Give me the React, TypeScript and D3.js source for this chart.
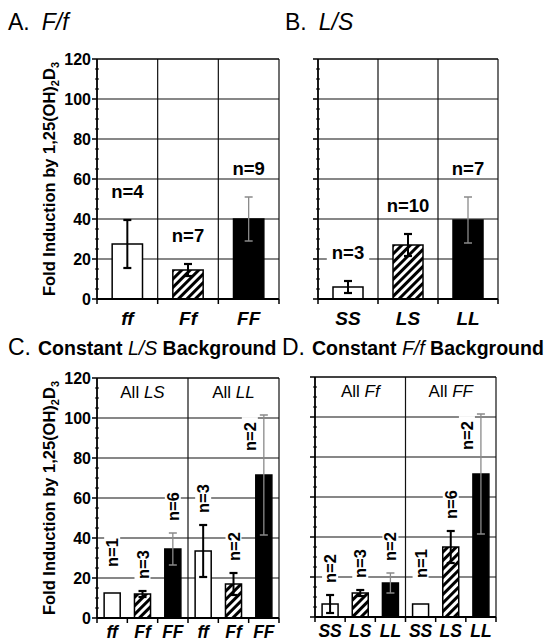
import React, { useRef, useEffect } from "react";
import * as d3 from "d3";

// A. F/f genotypes
const fCats = ["ff", "Ff", "FF"];
const fMeans = [27.5, 14.5, 40];
const fErrs = [12, 3, 11];
const fCounts = [4, 7, 9];

// B. L/S genotypes
const lCats = ["SS", "LS", "LL"];
const lMeans = [6, 27, 39.5];
const lErrs = [3, 5.5, 11.5];
const lCounts = [3, 10, 7];

// C. constant L/S background
const cGroups = ["LS", "LL"];
const cCats = ["ff", "Ff", "FF", "ff", "Ff", "FF"];
const cMeans = [12.5, 12, 34.5, 33.5, 17, 71.5];
const cErrs = [0, 1.5, 8, 13, 5.5, 30];
const cCounts = [1, 3, 6, 3, 2, 2];

// D. constant F/f background
const dGroups = ["Ff", "FF"];
const dCats = ["SS", "LS", "LL", "SS", "LS", "LL"];
const dMeans = [6.5, 12, 17, 6.5, 35, 71.5];
const dErrs = [4.5, 1.5, 5, 0, 8, 30];
const dCounts = [2, 3, 2, 1, 6, 2];

const yTicks = [0, 20, 40, 60, 80, 100, 120];
const fills = ["#fff", "url(#hatch)", "#000"];
const FONT = "'Liberation Sans', Arial, Helvetica, sans-serif";

const drawPanel = (svg, p) => {
  const g = svg.append("g");
  const n = p.cats.length;
  const pi = n > 3 ? 0.47 : 0.5;
  const x = d3
    .scaleBand()
    .domain(d3.range(n))
    .range([p.left, p.right])
    .paddingInner(pi)
    .paddingOuter(pi / 2);
  const y = d3.scaleLinear().domain([0, 120]).range([p.bottom, p.top]);
  const step = x.step();
  const bw = x.bandwidth();

  g.append("rect")
    .attr("x", p.left)
    .attr("y", p.top)
    .attr("width", p.right - p.left)
    .attr("height", p.bottom - p.top)
    .attr("fill", "#fff");

  // horizontal grid
  g.append("g")
    .selectAll("line")
    .data(yTicks.slice(1))
    .join("line")
    .attr("x1", p.left)
    .attr("x2", p.right)
    .attr("y1", (d) => y(d))
    .attr("y2", (d) => y(d))
    .attr("stroke", "#111")
    .attr("stroke-width", 1.2);

  // vertical dividers + right border
  const divs = p.groups ? [3, n] : d3.range(1, n + 1);
  g.append("g")
    .selectAll("line")
    .data(divs)
    .join("line")
    .attr("x1", (i) => p.left + i * step)
    .attr("x2", (i) => p.left + i * step)
    .attr("y1", p.top)
    .attr("y2", p.bottom)
    .attr("stroke", "#111")
    .attr("stroke-width", 1.2);

  // group headers
  if (p.groups) {
    p.groups.forEach((grp, gi) => {
      const t = g
        .append("text")
        .attr("x", p.left + (gi * 3 + 1.5) * step)
        .attr("y", p.top + 20)
        .attr("text-anchor", "middle")
        .attr("font-family", FONT)
        .attr("font-size", 17);
      t.append("tspan").text("All ");
      t.append("tspan").attr("font-style", "italic").text(grp);
    });
  }

  // n labels with white boxes that break the grid
  p.counts.forEach((c, i) => {
    const cx = x(i) + bw / 2;
    const topVal = p.means[i] + p.errs[i];
    const lg = g.append("g");
    if (p.rotateN) {
      const big = p.errs[i] > 20;
      const base = big
        ? y(p.means[i]) - 24
        : y(topVal) - 12 - (p.errs[i] === 0 ? 14 : 0);
      lg.attr("transform", `translate(${big ? cx - 8 : cx + 6},${base}) rotate(-90)`);
    } else {
      lg.attr("transform", `translate(${cx},${y(topVal) - 22})`);
    }
    const t = lg
      .append("text")
      .attr("text-anchor", p.rotateN ? "start" : "middle")
      .attr("font-family", FONT)
      .attr("font-weight", "bold")
      .attr("font-size", p.rotateN ? 16.5 : 18.5)
      .text(`n=${c}`);
    const bb = t.node().getBBox();
    lg.insert("rect", "text")
      .attr("x", bb.x - 5)
      .attr("y", bb.y + 1)
      .attr("width", bb.width + 10)
      .attr("height", bb.height - 2)
      .attr("fill", "#fff");
  });

  // bars
  g.append("g")
    .selectAll("rect")
    .data(p.means)
    .join("rect")
    .attr("x", (_, i) => x(i))
    .attr("y", (d) => y(d))
    .attr("width", bw)
    .attr("height", (d) => y(0) - y(d))
    .attr("fill", (_, i) => fills[i % 3])
    .attr("stroke", "#000")
    .attr("stroke-width", 1.5);

  // error bars
  p.errs.forEach((e, i) => {
    if (!e) return;
    const cx = x(i) + bw / 2;
    const dark = i % 3 === 2;
    const col = dark ? "#8a8a8a" : "#000";
    const sw = dark ? 1.3 : 2;
    const eg = g.append("g").attr("stroke", col).attr("stroke-width", sw);
    eg.append("line")
      .attr("x1", cx)
      .attr("x2", cx)
      .attr("y1", y(p.means[i] - e))
      .attr("y2", y(p.means[i] + e));
    [p.means[i] - e, p.means[i] + e].forEach((v) => {
      eg.append("line")
        .attr("x1", cx - 4)
        .attr("x2", cx + 4)
        .attr("y1", y(v))
        .attr("y2", y(v))
        .attr("stroke-width", dark ? 1.5 : 2.2);
    });
  });

  // axes
  const ax = g.append("g").attr("stroke", "#000");
  ax.append("line")
    .attr("x1", p.left)
    .attr("x2", p.left)
    .attr("y1", p.top)
    .attr("y2", p.bottom)
    .attr("stroke-width", 1.8);
  ax.append("line")
    .attr("x1", p.left)
    .attr("x2", p.right)
    .attr("y1", p.bottom)
    .attr("y2", p.bottom)
    .attr("stroke-width", 1.8);
  ax.append("line")
    .attr("x1", p.left)
    .attr("x2", p.right)
    .attr("y1", p.top)
    .attr("y2", p.top)
    .attr("stroke-width", 1.2);
  ax.selectAll(".major")
    .data(yTicks)
    .join("line")
    .attr("x1", p.left - 5)
    .attr("x2", p.left)
    .attr("y1", (d) => y(d))
    .attr("y2", (d) => y(d))
    .attr("stroke-width", 1.5);
  ax.selectAll(".minor")
    .data(d3.range(0, 121, 5).filter((v) => v % 20 !== 0))
    .join("line")
    .attr("x1", p.left - 2)
    .attr("x2", p.left + 2)
    .attr("y1", (d) => y(d))
    .attr("y2", (d) => y(d))
    .attr("stroke-width", 1);
  ax.selectAll(".xtick")
    .data(d3.range(0, n + 1))
    .join("line")
    .attr("x1", (i) => p.left + i * step)
    .attr("x2", (i) => p.left + i * step)
    .attr("y1", p.bottom)
    .attr("y2", p.bottom + 5)
    .attr("stroke-width", 1.5);

  // x labels
  g.append("g")
    .selectAll("text")
    .data(p.cats)
    .join("text")
    .attr("x", (_, i) => x(i) + bw / 2)
    .attr("y", p.bottom + (n > 3 ? 20 : 26))
    .attr("text-anchor", "middle")
    .attr("font-family", FONT)
    .attr("font-weight", "bold")
    .attr("font-style", "italic")
    .attr("font-size", n > 3 ? 17.5 : 19)
    .text((d) => d);

  if (p.yLabels) {
    g.append("g")
      .selectAll("text")
      .data(yTicks)
      .join("text")
      .attr("x", p.left - 6)
      .attr("y", (d) => y(d))
      .attr("dy", "0.36em")
      .attr("text-anchor", "end")
      .attr("font-family", FONT)
      .attr("font-weight", "bold")
      .attr("font-size", 16)
      .text((d) => d);

    const lab = g
      .append("text")
      .attr("transform", `translate(55,${(p.top + p.bottom) / 2}) rotate(-90)`)
      .attr("text-anchor", "middle")
      .attr("font-family", FONT)
      .attr("font-weight", "bold")
      .attr("font-size", 16.5);
    lab.append("tspan").text("Fold Induction by 1,25(OH)");
    lab.append("tspan").attr("font-size", 11).attr("dy", 4).text("2");
    lab.append("tspan").attr("dy", -4).text("D");
    lab.append("tspan").attr("font-size", 11).attr("dy", 4).text("3");
  }

  // panel title
  const tt = svg
    .append("text")
    .attr("x", p.titleX)
    .attr("y", p.titleY)
    .attr("font-family", FONT);
  tt.append("tspan").attr("font-size", 23).text(p.letter + ".");
  if (p.simpleTitle) {
    tt.append("tspan")
      .attr("font-size", 23)
      .attr("font-style", "italic")
      .attr("dx", 12)
      .text(p.simpleTitle);
  } else {
    tt.append("tspan")
      .attr("font-size", 19.5)
      .attr("font-weight", "bold")
      .attr("dx", 7)
      .text("Constant ");
    tt.append("tspan")
      .attr("font-size", 19.5)
      .attr("font-style", "italic")
      .text(p.bgName);
    tt.append("tspan")
      .attr("font-size", 19.5)
      .attr("font-weight", "bold")
      .text(" Background");
  }
};

const App = () => {
  const svgRef = useRef(null);

  useEffect(() => {
    svgRef.current.innerHTML = "";
    const svg = d3.select(svgRef.current);

    const defs = svg.append("defs");
    const pat = defs
      .append("pattern")
      .attr("id", "hatch")
      .attr("patternUnits", "userSpaceOnUse")
      .attr("width", 6)
      .attr("height", 6)
      .attr("patternTransform", "rotate(45)");
    pat.append("rect").attr("width", 6).attr("height", 6).attr("fill", "#fff");
    pat.append("rect").attr("width", 3).attr("height", 6).attr("fill", "#000");

    svg.append("rect").attr("width", 545).attr("height", 644).attr("fill", "#fff");

    drawPanel(svg, {
      left: 97, right: 279, top: 59, bottom: 299,
      cats: fCats, means: fMeans, errs: fErrs, counts: fCounts,
      groups: null, rotateN: false, yLabels: true,
      letter: "A", simpleTitle: "F/f", titleX: 8, titleY: 30,
    });
    drawPanel(svg, {
      left: 318, right: 498, top: 59, bottom: 299,
      cats: lCats, means: lMeans, errs: lErrs, counts: lCounts,
      groups: null, rotateN: false, yLabels: false,
      letter: "B", simpleTitle: "L/S", titleX: 285, titleY: 30,
    });
    drawPanel(svg, {
      left: 97, right: 279, top: 378, bottom: 618,
      cats: cCats, means: cMeans, errs: cErrs, counts: cCounts,
      groups: cGroups, rotateN: true, yLabels: true,
      letter: "C", bgName: "L/S", titleX: 8, titleY: 355,
    });
    drawPanel(svg, {
      left: 315, right: 496, top: 377, bottom: 617,
      cats: dCats, means: dMeans, errs: dErrs, counts: dCounts,
      groups: dGroups, rotateN: true, yLabels: false,
      letter: "D", bgName: "F/f", titleX: 282, titleY: 355,
    });
  }, []);

  return (
    <svg
      ref={svgRef}
      width={545}
      height={644}
      style={{ position: "absolute", left: 0, top: 0 }}
    ></svg>
  );
};

export default App;
